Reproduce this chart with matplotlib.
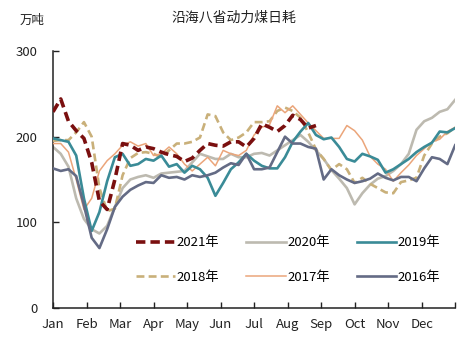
import matplotlib
matplotlib.use("Agg")
import matplotlib.pyplot as plt
import numpy as np

plt.rcParams['font.family'] = ['Noto Sans CJK SC', 'DejaVu Sans']

# Weekly coal burn of eight coastal provinces (10k tonnes), week 0..52
weeks = np.arange(53)
months = ['Jan', 'Feb', 'Mar', 'Apr', 'May', 'Jun',
          'Jul', 'Aug', 'Sep', 'Oct', 'Nov', 'Dec']

y2021 = [229, 244, 218, 207, 198, 170, 125, 115, 150, 192, 190, 184, 188, 186,
         182, 179, 177, 171, 175, 184, 192, 190, 189, 194, 194, 188, 198, 215,
         211, 206, 213, 225, 220, 210, 213]
y2020 = [188, 180, 165, 128, 104, 92, 87, 96, 118, 140, 150, 153, 155, 152,
         157, 158, 159, 160, 170, 180, 177, 174, 174, 180, 176, 176, 180, 181,
         178, 184, 190, 196, 202, 194, 184, 174, 161, 151, 140, 121, 134, 144,
         151, 154, 160, 168, 180, 208, 218, 222, 229, 232, 243]
y2019 = [198, 196, 194, 178, 128, 90, 112, 148, 176, 180, 166, 168, 174, 172,
         178, 165, 168, 158, 166, 162, 152, 131, 146, 162, 170, 180, 172, 166,
         163, 163, 176, 194, 206, 216, 202, 197, 199, 188, 174, 171, 180, 177,
         173, 158, 162, 168, 174, 182, 188, 193, 206, 205, 210]
y2018 = [195, 196, 196, 205, 217, 200, 140, 113, 116, 155, 175, 181, 182, 180,
         176, 184, 192, 192, 194, 199, 226, 224, 205, 196, 199, 205, 217, 217,
         218, 230, 234, 230, 222, 205, 185, 174, 161, 168, 162, 146, 152, 145,
         140, 135, 134, 147, 149, 152, 178, 192, 200, 204, 211]
y2017 = [192, 192, 182, 150, 115, 128, 160, 172, 180, 190, 194, 189, 192, 178,
         180, 188, 180, 168, 160, 168, 176, 166, 184, 180, 178, 184, 202, 211,
         214, 236, 228, 236, 226, 216, 207, 198, 198, 198, 213, 207, 196, 177,
         168, 162, 148, 158, 167, 178, 186, 194, 197, 206, 211]
y2016 = [163, 160, 162, 154, 120, 82, 70, 92, 118, 130, 138, 143, 147, 146,
         155, 152, 153, 150, 155, 153, 155, 158, 164, 169, 167, 180, 162, 162,
         164, 182, 200, 192, 192, 188, 186, 150, 162, 155, 150, 146, 148, 151,
         157, 152, 149, 153, 153, 148, 163, 176, 174, 168, 190]

fig = plt.figure(figsize=(4.72, 3.40), dpi=100)
ax = fig.add_axes([0.1123, 0.094, 0.852, 0.756])


def xpos(n):
    return weeks[:n] * 12 / 52


lines = {}
lines['2021'], = ax.plot(xpos(len(y2021)), y2021, color='#7a0f0f', lw=2.6,
                         ls=(0, (2.6, 1.4)), label='2021年', zorder=6)
lines['2020'], = ax.plot(xpos(len(y2020)), y2020, color='#bdbab0', lw=1.9,
                         label='2020年', zorder=2)
lines['2019'], = ax.plot(xpos(len(y2019)), y2019, color='#3a8b97', lw=1.9,
                         label='2019年', zorder=4)
lines['2018'], = ax.plot(xpos(len(y2018)), y2018, color='#c9b07a', lw=1.9,
                         ls=(0, (3, 1.6)), label='2018年', zorder=3)
lines['2017'], = ax.plot(xpos(len(y2017)), y2017, color='#eba57a', lw=1.1,
                         label='2017年', zorder=3)
lines['2016'], = ax.plot(xpos(len(y2016)), y2016, color='#646b85', lw=1.9,
                         label='2016年', zorder=5)

ax.set_xlim(0, 12)
ax.set_ylim(0, 300)
ax.set_xticks(range(13))
ax.set_xticklabels(months + [''])
ax.set_yticks([0, 100, 200, 300])
ax.tick_params(direction='in', length=4, width=1, labelsize=9.5, colors='#222222')
ax.tick_params(axis='x', pad=7)
ax.tick_params(axis='y', pad=11)
for side in ('top', 'right'):
    ax.spines[side].set_visible(False)
for side in ('left', 'bottom'):
    ax.spines[side].set_linewidth(1.1)
    ax.spines[side].set_color('#222222')

fig.text(0.496, 0.948, '沿海八省动力煤日耗', ha='center', va='center',
         fontsize=10, color='#222222')
fig.text(0.068, 0.94, '万吨', ha='center', va='center', fontsize=9,
         color='#222222')

# legend rows: 2021/2020/2019, then 2018/2017/2016 (filled column by column)
order = ['2021', '2018', '2020', '2017', '2019', '2016']
handles = [lines[k] for k in order]
leg = ax.legend(handles, [h.get_label() for h in handles], ncol=3,
                loc='upper left', bbox_to_anchor=(0.262, 0.34),
                bbox_transform=fig.transFigure, frameon=False, fontsize=9.5,
                handlelength=3.0, columnspacing=2.05, labelspacing=1.65,
                handletextpad=0.1)

fig.savefig('out.png', dpi=100)
